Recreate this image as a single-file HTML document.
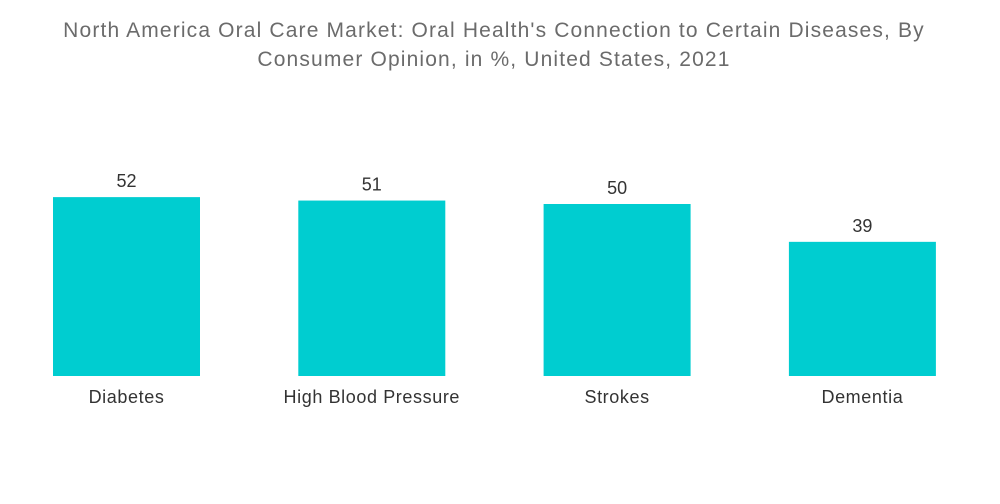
<!DOCTYPE html>
<html><head><meta charset="utf-8"><style>
body{margin:0;background:#fff;width:1000px;height:504px;overflow:hidden;font-family:"Liberation Sans",sans-serif}
#title{position:absolute;left:0;width:988px;top:16px;text-align:center;font-size:21px;line-height:29px;color:#6b6b6b;letter-spacing:1.15px}
</style></head><body>
<div id="title">North America Oral Care Market: Oral Health's Connection to Certain Diseases, By<br>Consumer Opinion, in %, United States, 2021</div>
<svg id="chart" width="1000" height="504" style="position:absolute;left:0;top:0"></svg>
<script>
const categories=["Diabetes","High Blood Pressure","Strokes","Dementia"];
const values=[52,51,50,39];
const svg=document.getElementById('chart');
const NS='http://www.w3.org/2000/svg';
const baseY=376, pxPerUnit=3.44, x0=53, step=245.3, bw=147;
function yScale(v){return baseY-v*pxPerUnit;}
function xScale(i){return x0+i*step;}
categories.forEach((c,i)=>{
  const x=xScale(i), y=yScale(values[i]);
  const r=document.createElementNS(NS,'rect');
  r.setAttribute('x',x);r.setAttribute('y',y);r.setAttribute('width',bw);r.setAttribute('height',baseY-y);r.setAttribute('fill','#00cdd0');
  
  
  svg.appendChild(r);
  const v=document.createElementNS(NS,'text');
  v.setAttribute('x',x+bw/2);v.setAttribute('y',y-10);v.setAttribute('text-anchor','middle');v.setAttribute('font-size','18');v.setAttribute('fill','#333');
  v.textContent=values[i];
  
  
  svg.appendChild(v);
  const t=document.createElementNS(NS,'text');
  t.setAttribute('x',x+bw/2);t.setAttribute('y',403);t.setAttribute('text-anchor','middle');t.setAttribute('font-size','18');t.setAttribute('fill','#333');t.setAttribute('letter-spacing','0.6');
  t.textContent=c;
  
  
  svg.appendChild(t);
});
</script>
</body></html>
